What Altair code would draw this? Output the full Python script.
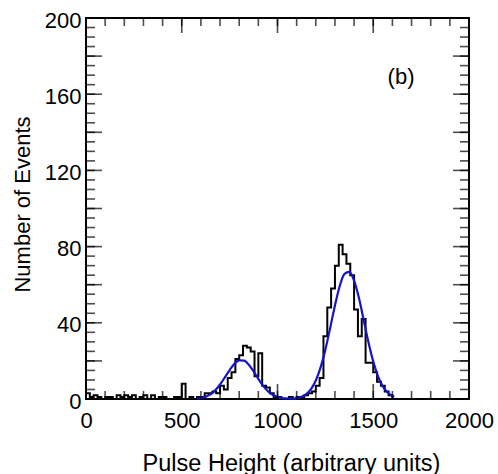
import altair as alt
import pandas as pd

# Histogram: left edges of 20-unit bins and event counts
bin_left = list(range(0, 2000, 20))
counts = [3, 1, 2, 1, 0, 1, 1, 0, 2, 1,
          2, 1, 2, 0, 1, 2, 0, 2, 0, 1,
          1, 0, 0, 1, 1, 8, 0, 1, 0, 1,
          1, 3, 3, 4, 3, 7, 5, 11, 14, 21,
          23, 28, 27, 25, 12, 24, 7, 6, 3, 1,
          1, 0, 0, 1, 0, 1, 1, 2, 3, 4,
          7, 11, 33, 48, 58, 70, 81, 76, 71, 65,
          47, 33, 42, 19, 19, 14, 9, 7, 4, 2,
          0, 0, 0, 0, 0, 0, 0, 0, 0, 0,
          0, 0, 0, 0, 0, 0, 0, 0, 0, 0]

# Fitted curve
fit_x = [580, 600, 625, 650, 675, 700, 725, 750, 775, 800, 825, 850, 875, 900,
         925, 950, 975, 1000, 1025, 1050, 1075, 1100, 1125, 1150, 1175, 1200,
         1225, 1250, 1275, 1300, 1325, 1350, 1375, 1400, 1425, 1450, 1475, 1500,
         1525, 1550, 1575, 1600, 1610]
fit_y = [0.3, 0.5, 1.2, 2.5, 4.6, 7.6, 11.4, 15.2, 18.5, 20.3, 20.1, 18.0, 14.5, 10.6,
         6.9, 4.1, 2.2, 1.1, 0.5, 0.3, 0.2, 0.5, 1.2, 2.6, 5.2, 9.7,
         16.6, 25.9, 37.3, 49.1, 59.3, 65.7, 66.7, 62.1, 53.1, 41.5, 29.8, 19.7,
         11.9, 6.6, 3.4, 1.6, 1.2]

x_labels = [0, 500, 1000, 1500, 2000]
y_labels = [0, 40, 80, 120, 160, 200]
x_major = [0, 500, 1000, 1500, 2000]
x_minor = list(range(0, 2001, 100))
y_major = list(range(0, 201, 20))
y_minor = list(range(0, 201, 5))

FONT = "Liberation Sans"

hist = pd.DataFrame({"x": bin_left + [2000], "y": counts + [0]})
fit = pd.DataFrame({"x": fit_x, "y": fit_y})

xs = alt.Scale(domain=[0, 2000], nice=False, zero=False)
ys = alt.Scale(domain=[0, 200], nice=False, zero=False)

xaxis = alt.Axis(values=x_labels, format="d", ticks=False, domain=False, grid=False,
                 labelFontSize=22, labelFont=FONT, labelColor="black",
                 labelPadding=11, labelFlush=False, labelOverlap=False,
                 title="Pulse Height (arbitrary units)", titleFont=FONT,
                 titleFontSize=23.5, titleFontWeight="normal", titleColor="black",
                 titleX=205, titleY=64, titleBaseline="middle", titleAlign="center")
yaxis = alt.Axis(values=y_labels, format="d", ticks=False, domain=False, grid=False,
                 labelFontSize=22, labelFont=FONT, labelColor="black",
                 labelPadding=5, labelOverlap=False, labelOffset=2,
                 title="Number of Events", titleFont=FONT,
                 titleFontSize=22, titleFontWeight="normal", titleColor="black",
                 titleX=-64, titleY=186, titleAngle=270,
                 titleBaseline="middle", titleAlign="center")

hist_layer = alt.Chart(hist).mark_line(
    interpolate="step-after", color="black", strokeWidth=2
).encode(
    x=alt.X("x:Q", scale=xs, axis=xaxis),
    y=alt.Y("y:Q", scale=ys, axis=yaxis),
)

fit_layer = alt.Chart(fit).mark_line(
    interpolate="monotone", color="#1414c8", strokeWidth=2.2
).encode(
    x=alt.X("x:Q", scale=xs, axis=xaxis),
    y=alt.Y("y:Q", scale=ys, axis=yaxis),
)


def xticks(vals, size, top):
    df = pd.DataFrame({"x": vals, "y": [200 if top else 0] * len(vals)})
    off = size / 2 if top else -size / 2
    return alt.Chart(df).mark_tick(
        orient="vertical", size=size, thickness=1.6, color="black", yOffset=off
    ).encode(
        x=alt.X("x:Q", scale=xs, axis=xaxis),
        y=alt.Y("y:Q", scale=ys, axis=yaxis),
    )


def yticks(vals, size, right):
    df = pd.DataFrame({"y": vals, "x": [2000 if right else 0] * len(vals)})
    off = -size / 2 if right else size / 2
    return alt.Chart(df).mark_tick(
        orient="horizontal", size=size, thickness=1.6, color="black", xOffset=off
    ).encode(
        x=alt.X("x:Q", scale=xs, axis=xaxis),
        y=alt.Y("y:Q", scale=ys, axis=yaxis),
    )


ticks = [
    xticks(x_minor, 8, False), xticks(x_major, 15, False),
    xticks(x_minor, 8, True), xticks(x_major, 15, True),
    yticks(y_minor, 9, False), yticks(y_major, 16, False),
    yticks(y_minor, 9, True), yticks(y_major, 16, True),
]

label = alt.Chart(pd.DataFrame({"x": [1645], "y": [169], "t": ["(b)"]})).mark_text(
    font=FONT, fontSize=22, color="black", align="center", baseline="middle"
).encode(
    x=alt.X("x:Q", scale=xs, axis=xaxis),
    y=alt.Y("y:Q", scale=ys, axis=yaxis),
    text="t:N",
)

chart = alt.layer(hist_layer, fit_layer, *ticks, label).properties(
    width=383, height=381,
    autosize=alt.AutoSizeParams(type="none"),
    padding={"left": 86, "top": 18, "right": 29, "bottom": 75},
    background="white",
).configure_view(stroke="black", strokeWidth=2)

chart.save("out.html", embed_options={"renderer": "svg", "actions": False})
